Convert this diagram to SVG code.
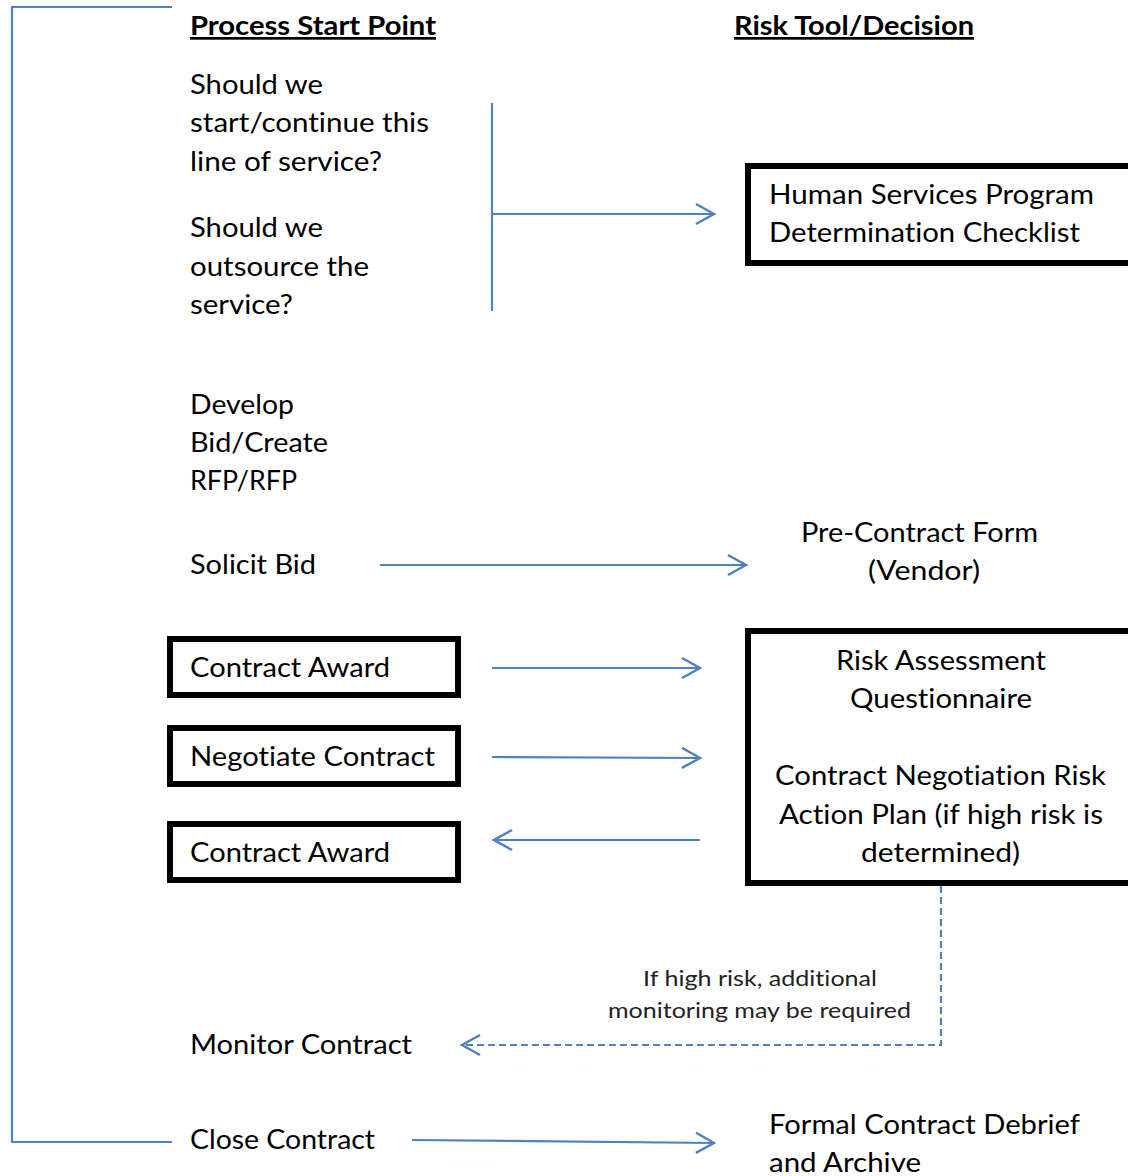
<svg xmlns="http://www.w3.org/2000/svg" width="1128" height="1176" viewBox="0 0 1128 1176">
<defs>
<marker id="arr" markerUnits="userSpaceOnUse" markerWidth="24" markerHeight="24" refX="19" refY="11" orient="auto" viewBox="0 0 24 22">
<path d="M1,1 L19,11 L1,21" fill="none" stroke="#4F81BD" stroke-width="2.4"/>
</marker>
</defs>
<style>
text{font-family:Lato,"Open Sans","Liberation Sans",sans-serif;font-size:27px;fill:#000;font-variant-ligatures:none;font-feature-settings:"liga" 0,"clig" 0}
.h{font-weight:bold;text-decoration:underline}
.c{text-anchor:middle}
.s{font-size:22px;fill:#222}
.box{fill:#fff;stroke:#000;stroke-width:6}
.ln{fill:none;stroke:#4F81BD;stroke-width:2.2}
.ar{marker-end:url(#arr)}
.d{stroke-dasharray:7 4}
</style>
<rect width="1128" height="1176" fill="#fff"/>
<g id="connectors">
<path class="ln" d="M172,7 H12 V1142 H172"/>
<path class="ln" d="M492,103 V311"/>
<path class="ln ar" d="M492,214 H714"/>
<path class="ln ar" d="M380,565 H746"/>
<path class="ln ar" d="M492,668 H700"/>
<path class="ln ar" d="M492,757 L700,758"/>
<path class="ln ar" d="M700,840 H494"/>
<path class="ln d ar" d="M941,886 V1045 H462"/>
<path class="ln ar" d="M412,1140 L714,1143"/>
</g>
<g id="headers">
<text class="h" x="190" y="35" textLength="246" lengthAdjust="spacingAndGlyphs">Process Start Point</text>
<text class="h" x="734" y="35" textLength="240" lengthAdjust="spacingAndGlyphs">Risk Tool/Decision</text>
</g>
<g id="n-questions">
<text x="190" y="94" textLength="133" lengthAdjust="spacingAndGlyphs">Should we</text>
<text x="190" y="132" textLength="239" lengthAdjust="spacingAndGlyphs">start/continue this</text>
<text x="190" y="171" textLength="192" lengthAdjust="spacingAndGlyphs">line of service?</text>
<text x="190" y="237" textLength="133" lengthAdjust="spacingAndGlyphs">Should we</text>
<text x="190" y="276" textLength="179" lengthAdjust="spacingAndGlyphs">outsource the</text>
<text x="190" y="314" textLength="103" lengthAdjust="spacingAndGlyphs">service?</text>
</g>
<g id="n-checklist">
<rect class="box" x="748" y="166" width="400" height="97"/>
<text x="769" y="204" textLength="325" lengthAdjust="spacingAndGlyphs">Human Services Program</text>
<text x="769" y="242" textLength="311" lengthAdjust="spacingAndGlyphs">Determination Checklist</text>
</g>
<g id="n-develop">
<text x="190" y="414" textLength="104" lengthAdjust="spacingAndGlyphs">Develop</text>
<text x="190" y="452" textLength="138" lengthAdjust="spacingAndGlyphs">Bid/Create</text>
<text x="190" y="490" textLength="107" lengthAdjust="spacingAndGlyphs">RFP/RFP</text>
</g>
<g id="n-solicit">
<text x="190" y="574" textLength="126" lengthAdjust="spacingAndGlyphs">Solicit Bid</text>
</g>
<g id="n-precontract">
<text x="801" y="542" textLength="237" lengthAdjust="spacingAndGlyphs">Pre-Contract Form</text>
<text x="868" y="580" textLength="112" lengthAdjust="spacingAndGlyphs">(Vendor)</text>
</g>
<g id="n-award1">
<rect class="box" x="170" y="639" width="288" height="56"/>
<text x="190" y="677" textLength="200" lengthAdjust="spacingAndGlyphs">Contract Award</text>
</g>
<g id="n-negotiate">
<rect class="box" x="170" y="728" width="288" height="56"/>
<text x="190" y="766" textLength="245" lengthAdjust="spacingAndGlyphs">Negotiate Contract</text>
</g>
<g id="n-award2">
<rect class="box" x="170" y="824" width="288" height="56"/>
<text x="190" y="862" textLength="200" lengthAdjust="spacingAndGlyphs">Contract Award</text>
</g>
<g id="n-risk">
<rect class="box" x="748" y="631" width="400" height="252"/>
<text x="836" y="670" textLength="210" lengthAdjust="spacingAndGlyphs">Risk Assessment</text>
<text x="850" y="708" textLength="182" lengthAdjust="spacingAndGlyphs">Questionnaire</text>
<text x="775" y="785" textLength="331" lengthAdjust="spacingAndGlyphs">Contract Negotiation Risk</text>
<text x="779" y="824" textLength="324" lengthAdjust="spacingAndGlyphs">Action Plan (if high risk is</text>
<text x="861" y="862" textLength="159" lengthAdjust="spacingAndGlyphs">determined)</text>
</g>
<g id="l-monitoring">
<text class="s" x="643" y="986" textLength="234" lengthAdjust="spacingAndGlyphs">If high risk, additional</text>
<text class="s" x="608" y="1018" textLength="303" lengthAdjust="spacingAndGlyphs">monitoring may be required</text>
</g>
<g id="n-monitor">
<text x="190" y="1054" textLength="222" lengthAdjust="spacingAndGlyphs">Monitor Contract</text>
</g>
<g id="n-close">
<text x="190" y="1149" textLength="185" lengthAdjust="spacingAndGlyphs">Close Contract</text>
</g>
<g id="n-debrief">
<text x="769" y="1134" textLength="311" lengthAdjust="spacingAndGlyphs">Formal Contract Debrief</text>
<text x="769" y="1172" textLength="152" lengthAdjust="spacingAndGlyphs">and Archive</text>
</g>
</svg>
